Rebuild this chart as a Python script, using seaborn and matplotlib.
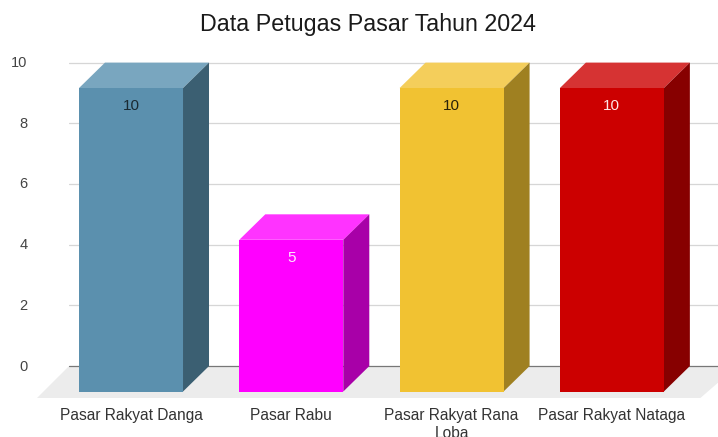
import seaborn as sns
import matplotlib.pyplot as plt
from matplotlib.transforms import ScaledTranslation

# Data
categories = ['Pasar Rakyat Danga', 'Pasar Rabu', 'Pasar Rakyat Rana\nLoba', 'Pasar Rakyat Nataga']
values = [10, 5, 10, 10]
y_ticks = [0, 2, 4, 6, 8, 10]

# Colours per bar
front_colors = ['#5b90ae', '#ff00ff', '#f1c232', '#cc0000']
top_colors = ['#79a6bf', '#ff33ff', '#f4ce5b', '#d63333']
side_colors = ['#3b5f72', '#a800a8', '#9f8021', '#870000']
label_colors = ['#1a2a33', '#ffe6ff', '#2a2208', '#ffe6e6']

# 3D depth in pixels, turned into data units below
depth_x = 26
depth_y = 25.5
px_x = 160.3
px_y = 30.38

sns.set_theme(style='white')
plt.rcParams['font.family'] = ['Liberation Sans', 'DejaVu Sans']

fig = plt.figure(figsize=(7.18, 4.37), dpi=100)
ax = fig.add_axes([69/718, (437-398)/437, (718-69)/718, (398-62)/437])

dx = depth_x/px_x
dy = depth_y/px_y

sns.barplot(x=categories, y=values, hue=categories, palette=front_colors,
            width=0.649, legend=False, ax=ax, saturation=1, zorder=5, linewidth=0)
bars = sorted(ax.patches, key=lambda p: p.get_x())

ax.set_xlim(-0.549, 3.5)
ax.set_ylim(-32/px_y, 10.02)

# Floor and walls
x0, x1 = ax.get_xlim()
ymin = ax.get_ylim()[0]
floor_skew = 32/px_x
ax.fill([x0, x0 - floor_skew, 3.39, x1 + 0.12], [0, ymin, ymin, 0],
        color='#ececec', lw=0, zorder=1, clip_on=False)
for t in y_ticks:
    ax.axhline(t, color='#777777' if t == 0 else '#d6d6d6', lw=0.9, zorder=2)

# Front faces are moved forward, top and side faces join them to the back wall
for i, bar in enumerate(bars):
    left = bar.get_x()
    right = left + bar.get_width()
    v = bar.get_height()
    bar.set_x(left - dx)
    bar.set_y(-dy)
    bar.set_clip_on(False)
    ax.fill([left - dx, right - dx, right, left], [v - dy, v - dy, v, v],
            color=top_colors[i], lw=0, zorder=4)
    ax.fill([right - dx, right, right, right - dx], [v - dy, v, 0, -dy],
            color=side_colors[i], lw=0, zorder=4)
    ax.annotate(str(values[i]), xy=(i, v), xytext=(-depth_x, -depth_y - 18),
                textcoords='offset pixels', ha='center', va='center',
                fontsize=11, color=label_colors[i], zorder=6)

# Axes text
ax.set_yticks(y_ticks)
ax.tick_params(axis='y', length=0, pad=30, labelsize=10.5, labelcolor='#444444')
ax.tick_params(axis='x', length=0, pad=7.5, labelsize=11.2, labelcolor='#333333')
shift = ScaledTranslation(-depth_x/100, 0, fig.dpi_scale_trans)
for lab in ax.get_xticklabels():
    lab.set_transform(lab.get_transform() + shift)
    lab.set_linespacing(1.25)
up = ScaledTranslation(0, 1/100, fig.dpi_scale_trans)
for lab in ax.get_yticklabels():
    lab.set_transform(lab.get_transform() + up)
sns.despine(ax=ax, left=True, bottom=True)

fig.text(367.5/718, 1 - 25/437, 'Data Petugas Pasar Tahun 2024', ha='center', va='center',
         fontsize=16.75, color='#1a1a1a')

fig.savefig('out.png', dpi=100)
